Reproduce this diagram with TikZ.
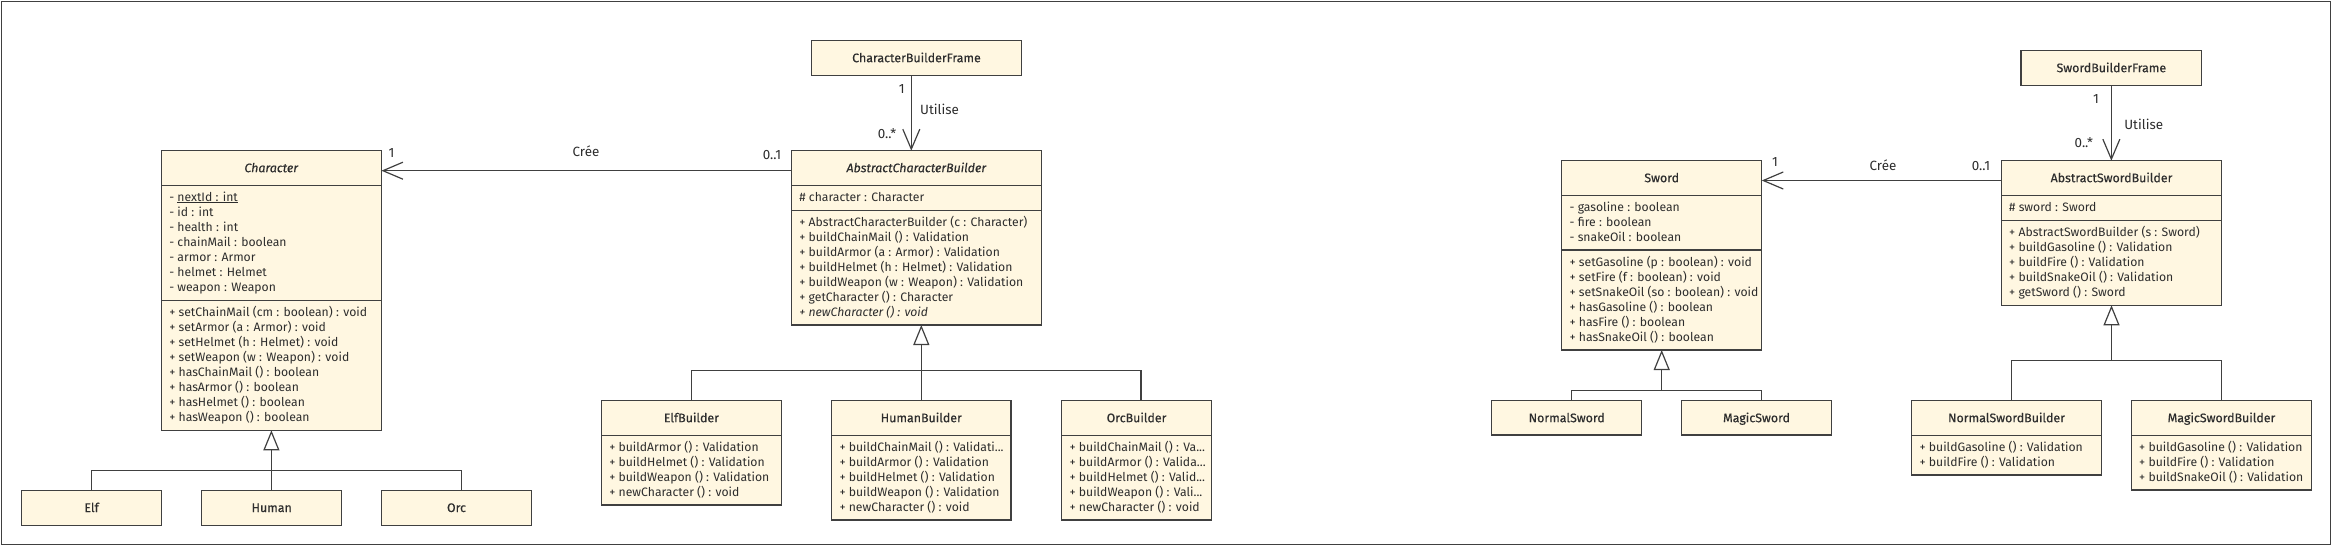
\documentclass[tikz,border=0pt]{standalone}
\usepackage{fontspec}
\setmainfont{Fira Sans}
\newfontfamily\ttlfamily[FakeBold=0.4]{Fira Sans}
\usetikzlibrary{arrows.meta}
\definecolor{boxfill}{RGB}{255,247,225}
\definecolor{linec}{RGB}{64,64,64}
\definecolor{txtc}{RGB}{45,45,45}
\newcommand\bodyfont{\fontsize{12.2}{15}\selectfont}
\newcommand\titlefont{\ttlfamily\fontsize{12.4}{15}\selectfont}
\newcommand\lblfont{\fontsize{13.4}{15}\selectfont}
\tikzset{
  clsbox/.style={draw=linec, fill=boxfill, line width=1.2pt, inner sep=0pt, outer sep=0pt, rectangle},
  ttl/.style={font=\titlefont, text=txtc, inner sep=0pt, anchor=base},
  itm/.style={font=\bodyfont, text=txtc, inner sep=0pt, anchor=base west},
  lbl/.style={font=\lblfont, text=txtc, inner sep=0pt, anchor=base},
  sepline/.style={draw=linec, line width=1.2pt},
  conn/.style={draw=linec, line width=1.2pt},
  assoc/.style={conn, -{Straight Barb[length=20pt,width=17pt]}},
  gen/.style={conn, -{Triangle[open,length=20pt,width=16pt,fill=white]}},
}
\newcommand\umlbox[6]{%
  \node[clsbox, minimum width={#4-#2}, minimum height={#5-#3}] (#1) at ({(#2+#4)/2},{(#3+#5)/2}) {};
  \node[ttl] (#1-title) at ({(#2+#4)/2},{#3+21.5}) {#6};}
\newcommand\hsep[2]{\draw[sepline] (#1.west |- 0,#2) -- (#1.east |- 0,#2);}
\newcommand\items[4]{%
  \foreach \itx [count=\i] in {#4} {\node[itm] (#1-\i) at (#2,{#3+15*(\i-1)}) {\itx};}}
\begin{document}
\begin{tikzpicture}[x=1pt,y=-1pt]
\useasboundingbox (0,0) rectangle (2332,546);
\draw[draw=linec, line width=1.5pt] (1.5,1.5) rectangle (2330.5,544.5);

% ---------- Character hierarchy ----------
\umlbox{character}{161.4}{150.7}{381.4}{430.3}{\textit{Character}}
\hsep{character}{185.3}
\hsep{character}{300.3}
\items{cha}{169.1}{201}{- \underline{nextId : int}, - id : int, - health : int, - chainMail : boolean, - armor : Armor, - helmet : Helmet, - weapon : Weapon}
\items{chm}{169.1}{316}{+ setChainMail (cm : boolean) : void, + setArmor (a : Armor) : void, + setHelmet (h : Helmet) : void, + setWeapon (w : Weapon) : void, + hasChainMail () : boolean, + hasArmor () : boolean, + hasHelmet () : boolean, + hasWeapon () : boolean}

\umlbox{elf}{21.4}{490.5}{161.7}{525.3}{Elf}
\umlbox{human}{201.7}{490.5}{341.7}{525.3}{Human}
\umlbox{orc}{381.3}{490.5}{531.7}{525.3}{Orc}
\coordinate (cj) at (character.south |- 0,470.7);
\draw[gen] (character.south |- human.north) -- (character.south);
\draw[conn] (elf.north) |- (cj);
\draw[conn] ([xshift=4.8pt]orc.north) |- (cj);

% ---------- Character builders ----------
\umlbox{cbf}{811.3}{40.7}{1021.7}{75.3}{CharacterBuilderFrame}
\umlbox{acb}{791.3}{150.7}{1041.7}{325}{\textit{AbstractCharacterBuilder}}
\hsep{acb}{185.3}
\hsep{acb}{210.7}
\items{acba}{799.2}{201}{\# character : Character}
\items{acbm}{799.2}{226}{+ AbstractCharacterBuilder (c : Character), + buildChainMail () : Validation, + buildArmor (a : Armor) : Validation, + buildHelmet (h : Helmet) : Validation, + buildWeapon (w : Weapon) : Validation, + getCharacter () : Character, \textit{+ newCharacter () : void}}

\umlbox{elfb}{601.4}{400.7}{781.4}{505}{ElfBuilder}
\hsep{elfb}{435.7}
\items{elfbm}{609.1}{451.6}{+ buildArmor () : Validation, + buildHelmet () : Validation, + buildWeapon () : Validation, + newCharacter () : void}
\umlbox{humanb}{831.6}{400.7}{1011}{520}{HumanBuilder}
\hsep{humanb}{435.7}
\items{humanbm}{839.3}{451.6}{+ buildChainMail () : Validati.{}.{}., + buildArmor () : Validation, + buildHelmet () : Validation, + buildWeapon () : Validation, + newCharacter () : void}
\umlbox{orcb}{1061.7}{400.7}{1211.4}{520}{OrcBuilder}
\hsep{orcb}{435.7}
\items{orcbm}{1069.4}{451.6}{+ buildChainMail () : Va.{}.{}., + buildArmor () : Valida.{}.{}., + buildHelmet () : Valid.{}.{}., + buildWeapon () : Vali.{}.{}., + newCharacter () : void}

\coordinate (bj) at (humanb.north |- 0,370.7);
\draw[gen] (humanb.north) -- (humanb.north |- acb.south);
\draw[conn] (elfb.north) |- (bj);
\draw[conn] ([xshift=4.5pt]orcb.north) |- (bj);

\draw[assoc] (acb.west |- 0,170.7) -- (character.east |- 0,170.7);
\draw[assoc] ([xshift=-5.2pt]cbf.south) -- ([xshift=-5.2pt]cbf.south |- acb.north);
\node[lbl] (l1) at (391.6,157.5) {1};
\node[lbl] (l2) at (586,156.5) {Crée};
\node[lbl] (l3) at (772,159) {0..1};
\node[lbl] (l4) at (901.7,93) {1};
\node[lbl] (l5) at (939.5,114.7) {Utilise};
\node[lbl] (l6) at (887,138) {0..*};

% ---------- Sword hierarchy ----------
\umlbox{sword}{1561.7}{160.7}{1761.7}{350}{Sword}
\hsep{sword}{195.3}
\hsep{sword}{250}
\items{swa}{1569.4}{211}{- gasoline : boolean, - fire : boolean, - snakeOil : boolean}
\items{swm}{1569.4}{266}{+ setGasoline (p : boolean) : void, + setFire (f : boolean) : void, + setSnakeOil (so : boolean) : void, + hasGasoline () : boolean, + hasFire () : boolean, + hasSnakeOil () : boolean}
\umlbox{nsword}{1491.7}{400.7}{1641.7}{435}{NormalSword}
\umlbox{msword}{1681.3}{400.7}{1831.7}{435}{MagicSword}
\coordinate (sj) at (sword.south |- 0,390.7);
\draw[gen] (sj) -- (sword.south);
\draw[conn] ([xshift=5pt]nsword.north) |- (sj) -| ([xshift=5pt]msword.north);

% ---------- Sword builders ----------
\umlbox{sbf}{2021}{50.7}{2201.7}{85.3}{SwordBuilderFrame}
\umlbox{asb}{2001.3}{160.7}{2221.7}{305.3}{AbstractSwordBuilder}
\hsep{asb}{195.3}
\hsep{asb}{220.7}
\items{asba}{2009}{211}{\# sword : Sword}
\items{asbm}{2009}{236}{+ AbstractSwordBuilder (s : Sword), + buildGasoline () : Validation, + buildFire () : Validation, + buildSnakeOil () : Validation, + getSword () : Sword}
\umlbox{nsb}{1911.7}{400.7}{2101.3}{475}{NormalSwordBuilder}
\hsep{nsb}{435.7}
\items{nsbm}{1919.4}{451.6}{+ buildGasoline () : Validation, + buildFire () : Validation}
\umlbox{msb}{2131.3}{400.7}{2311.7}{490}{MagicSwordBuilder}
\hsep{msb}{435.7}
\items{msbm}{2139}{451.6}{+ buildGasoline () : Validation, + buildFire () : Validation, + buildSnakeOil () : Validation}
\coordinate (aj) at (asb.south |- 0,360.7);
\draw[gen] (aj) -- (asb.south);
\draw[conn] ([xshift=5.2pt]nsb.north) |- (aj) -| (msb.north);

\draw[assoc] (asb.west |- 0,180.5) -- (sword.east |- 0,180.5);
\draw[assoc] (sbf.south) -- (sbf.south |- asb.north);
\node[lbl] (s1) at (1775,166.5) {1};
\node[lbl] (s2) at (1883,170) {Crée};
\node[lbl] (s3) at (1981,170) {0..1};
\node[lbl] (s4) at (2096,103) {1};
\node[lbl] (s5) at (2143.7,129) {Utilise};
\node[lbl] (s6) at (2083.8,147.5) {0..*};
\end{tikzpicture}
\end{document}
